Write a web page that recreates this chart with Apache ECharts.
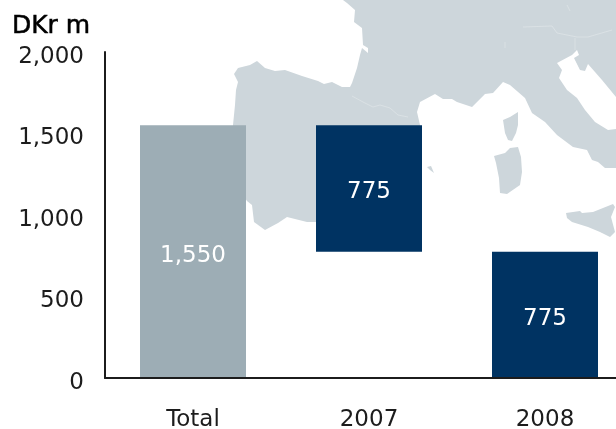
<!DOCTYPE html>
<html>
<head>
<meta charset="utf-8">
<style>html,body{margin:0;padding:0;background:#fff}#c{width:616px;height:429px}</style>
<script src="https://cdn.jsdelivr.net/npm/echarts@6/dist/echarts.min.js"></script>
</head>
<body>
<div id="c"></div>
<script>
const categories = ['Total', '2007', '2008'];
const baseValues = [0, 775, 0];
const totalValues = [1550, null, null];
const phaseValues = [null, 775, 775];
const yTicks = [0, 500, 1000, 1500, 2000];

// Decorative backdrop map (not data)
const mainland = [[233,125],[235,105],[236,90],[238,82],[234,74],[238,68],[250,65],[257,61],[265,68],[275,71],[285,70],[302,76],[318,81],[324,84],[332,82],[342,87],[346,87],[350,87],[352,83],[357,68],[360,55],[362,48],[368,53],[368,48],[363,45],[362,28],[354,22],[355,10],[347,3],[343,0],[616,0],[616,97],[602,80],[595,72],[588,64],[585,71],[580,70],[574,58],[579,55],[577,50],[572,55],[557,63],[562,70],[559,78],[567,90],[577,98],[585,110],[595,122],[608,130],[616,129],[616,168],[605,168],[598,162],[592,160],[587,150],[573,147],[557,135],[545,122],[532,113],[525,98],[510,85],[503,82],[493,93],[485,94],[472,107],[457,102],[452,99],[443,99],[435,94],[420,102],[417,112],[420,125],[420,160],[400,190],[340,222],[317,222],[307,222],[287,217],[278,223],[265,230],[254,222],[252,205],[247,201],[233,180]];
const corsica = [[518,112],[518,125],[516,133],[512,141],[508,140],[505,133],[503,120],[510,117]];
const sardinia = [[510,148],[518,147],[521,157],[522,172],[520,185],[507,194],[500,193],[499,178],[496,163],[494,156],[505,153]];
const islet = [[427,167],[431,166],[434,173],[430,170]];
const sicily = [[566,213],[580,211],[582,213],[593,212],[613,204],[615,207],[611,217],[615,232],[610,237],[600,232],[588,227],[572,222],[567,218]];
const borders = [
  [[352,96],[363,102],[373,107],[380,105],[390,108],[398,115],[408,117]],
  [[523,27],[552,26],[557,33],[577,37],[588,37],[612,30]],
  [[575,38],[575,50]],
  [[567,5],[570,11]],
  [[505,42],[505,48]]
];

const landColor = '#cdd6db';
const fontFamily = '"DejaVu Sans", sans-serif';
const fontSize = 23;
const ink = '#1c1c1c';

const graphic = [mainland, corsica, sardinia, islet, sicily].map(points => ({
  type: 'polygon', silent: true, z: -1,
  shape: { points },
  style: { fill: landColor }
})).concat(borders.map(points => ({
  type: 'polyline', silent: true, z: -1,
  shape: { points },
  style: { stroke: '#dfe5e8', lineWidth: 0.7, fill: null }
})));

const label = {
  show: true, position: 'inside', color: '#fff',
  fontFamily, fontSize, offset: [0, 4],
  formatter: p => p.value == null ? '' : p.value.toLocaleString('en-US')
};

const chart = echarts.init(document.getElementById('c'), null, { renderer: 'canvas' });
chart.setOption({
  animation: false,
  backgroundColor: '#fff',
  graphic,
  grid: { left: 105, top: 52, width: 528, height: 326, containLabel: false, outerBoundsMode: 'none' },
  xAxis: {
    type: 'category', data: categories, z: 5,
    axisLine: { lineStyle: { color: ink, width: 2 } },
    axisTick: { show: false },
    axisLabel: { color: ink, fontFamily, fontSize, margin: 31 }
  },
  yAxis: {
    type: 'value', min: 0, max: 2000, interval: 500, z: 5,
    name: 'DKr m', nameLocation: 'end', nameGap: 13,
    nameTextStyle: { color: '#000', fontFamily, fontSize: 25, fontWeight: 'normal', textBorderColor: '#000', textBorderWidth: 0.5, align: 'center', padding: [0, 0, 0, -108] },
    axisLine: { show: true, lineStyle: { color: ink, width: 2 } },
    axisTick: { show: false },
    splitLine: { show: false },
    axisLabel: { color: ink, fontFamily, fontSize, margin: 21, verticalAlign: 'top', lineHeight: 10,
      formatter: v => yTicks.includes(v) ? v.toLocaleString('en-US') : '' }
  },
  series: [
    { type: 'bar', stack: 'w', data: baseValues, barWidth: 106, silent: true,
      itemStyle: { color: 'transparent' } },
    { type: 'bar', stack: 'w', data: totalValues, barWidth: 106,
      itemStyle: { color: '#9dadb5' }, label },
    { type: 'bar', stack: 'w', data: phaseValues, barWidth: 106,
      itemStyle: { color: '#003362' }, label }
  ]
});
</script>
</body>
</html>
